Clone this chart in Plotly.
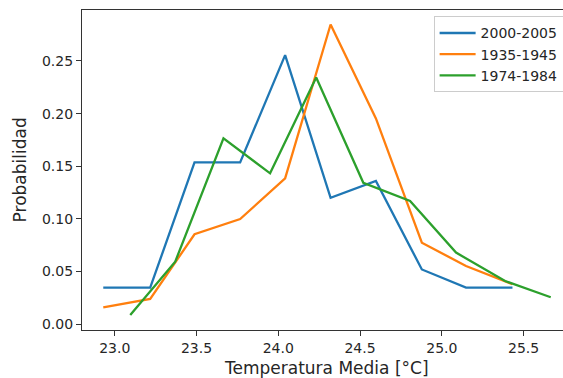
import plotly.graph_objects as go

# Data
x_2000 = [22.93, 23.217, 23.488, 23.767, 24.042, 24.32, 24.597, 24.878, 25.148, 25.432]
y_2000 = [0.0347, 0.0347, 0.1537, 0.1537, 0.2555, 0.120, 0.136, 0.052, 0.0347, 0.0347]

x_1935 = [22.93, 23.217, 23.488, 23.767, 24.042, 24.32, 24.597, 24.878, 25.148, 25.432]
y_1935 = [0.016, 0.024, 0.0854, 0.0999, 0.1385, 0.2846, 0.1954, 0.0774, 0.0553, 0.038]

x_1974 = [23.095, 23.37, 23.665, 23.95, 24.232, 24.52, 24.806, 25.087, 25.387, 25.666]
y_1974 = [0.0088, 0.0594, 0.1765, 0.1433, 0.2343, 0.1343, 0.117, 0.068, 0.041, 0.0256]

series_names = ["2000-2005", "1935-1945", "1974-1984"]
series_colors = ["#1f77b4", "#ff7f0e", "#2ca02c"]

x_ticks = [23.0, 23.5, 24.0, 24.5, 25.0, 25.5]
y_ticks = [0.00, 0.05, 0.10, 0.15, 0.20, 0.25]

x_title = "Temperatura Media [°C]"
y_title = "Probabilidad"

FONT = "DejaVu Sans"
AX = "#333333"
TXT = "#262626"

fig = go.Figure()
for xs, ys, name, color in zip([x_2000, x_1935, x_1974], [y_2000, y_1935, y_1974],
                               series_names, series_colors):
    fig.add_trace(go.Scatter(x=xs, y=ys, mode="lines", name=name,
                             line=dict(color=color, width=2.3)))

fig.update_layout(
    width=563, height=378,
    margin=dict(l=82, r=0, t=10, b=48, autoexpand=False),
    paper_bgcolor="white", plot_bgcolor="white",
    font=dict(family=FONT, color=TXT, size=14),
    showlegend=True,
    legend=dict(
        x=0.731, y=0.98, xanchor="left", yanchor="top",
        bgcolor="rgba(255,255,255,0.8)", bordercolor="#cccccc", borderwidth=1,
        font=dict(family=FONT, size=14, color=TXT),
        tracegroupgap=0, itemwidth=36,
    ),
    xaxis=dict(
        range=[22.80, 25.741], tickvals=x_ticks,
        ticktext=[f"{v:.1f}" for v in x_ticks],
        showgrid=False, zeroline=False, automargin=False,
        showline=True, linecolor=AX, linewidth=1.3, mirror=True,
        ticks="outside", ticklen=5, tickwidth=1.2, tickcolor=AX,
        tickfont=dict(family=FONT, size=14, color=TXT),
    ),
    yaxis=dict(
        range=[-0.0055, 0.2984], tickvals=y_ticks,
        ticktext=[f"{v:.2f}" for v in y_ticks],
        showgrid=False, zeroline=False, automargin=False,
        showline=True, linecolor=AX, linewidth=1.3, mirror=False,
        ticks="outside", ticklen=5, tickwidth=1.2, tickcolor=AX,
        tickfont=dict(family=FONT, size=14, color=TXT),
    ),
    annotations=[
        dict(text=x_title, xref="paper", yref="paper", x=0.509, y=-0.119,
             xanchor="center", yanchor="middle", showarrow=False,
             font=dict(family=FONT, size=17, color=TXT)),
        dict(text=y_title, xref="paper", yref="paper", x=-0.128, y=0.5,
             xanchor="center", yanchor="middle", showarrow=False, textangle=-90,
             font=dict(family=FONT, size=17, color=TXT)),
    ],
)

fig.write_html("out.html", config={"displayModeBar": False},
               post_script="document.body.style.margin='0';document.body.style.overflow='hidden';")
